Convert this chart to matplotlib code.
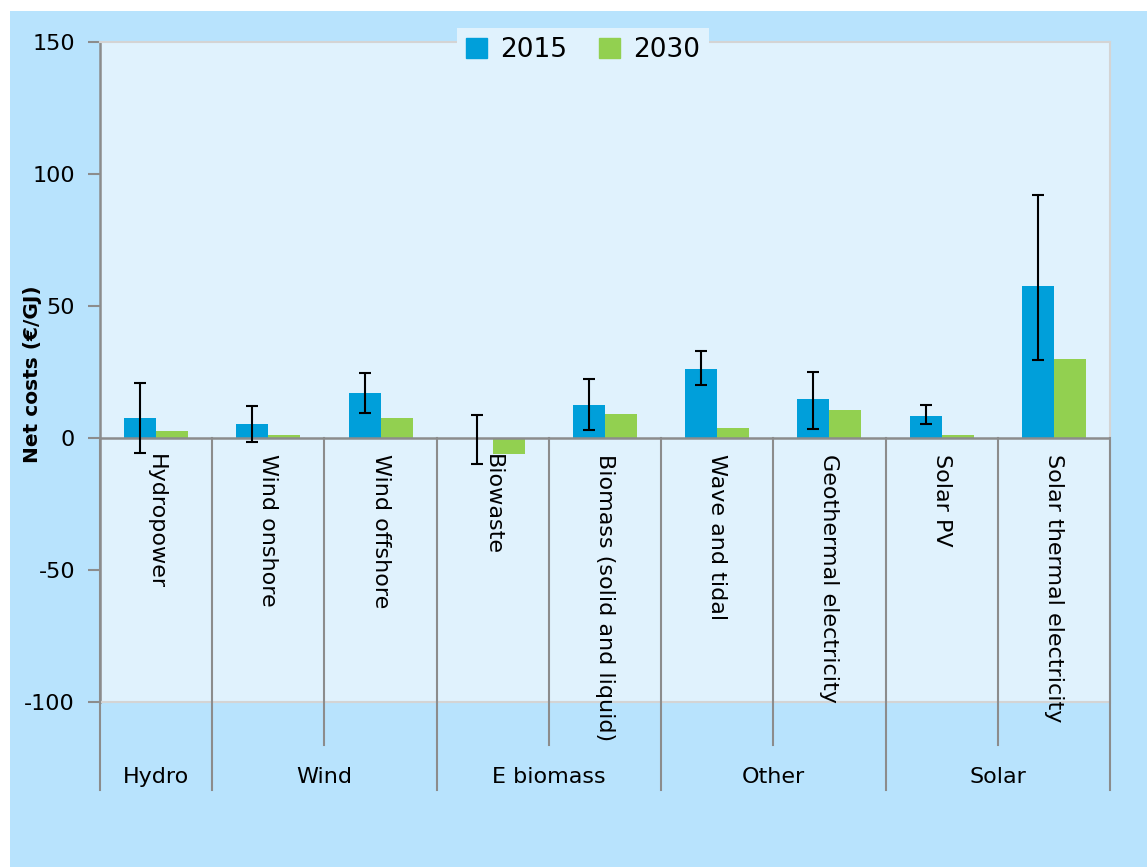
import numpy as np
import matplotlib.pyplot as plt
from matplotlib.patches import Rectangle, Patch

# data
techs = ["Hydropower", "Wind onshore", "Wind offshore", "Biowaste",
         "Biomass (solid and liquid)", "Wave and tidal", "Geothermal electricity",
         "Solar PV", "Solar thermal electricity"]
groups = ["Hydro", "Wind", "E biomass", "Other", "Solar"]
group_sizes = [1, 2, 2, 2, 2]
cost_2015 = [7.5, 5.3, 16.9, 0.0, 12.5, 26.1, 14.6, 8.3, 57.7]
cost_2030 = [2.7, 1.0, 7.5, -6.1, 9.0, 3.9, 10.5, 1.0, 29.8]
err_low = [-5.8, -1.4, 9.3, -10.0, 2.9, 20.1, 3.5, 5.3, 29.4]
err_high = [20.9, 12.2, 24.5, 8.7, 22.3, 33.1, 25.1, 12.5, 91.9]

c15 = "#009fda"
c30 = "#92d050"
plot_bg = "#e0f2fd"
outer_bg = "#b8e3fd"
grey = "#8c8c8c"

W, H = 1147, 867
fig = plt.figure(figsize=(W / 100, H / 100), dpi=100)
fig.patch.set_facecolor("white")
fig.patches.append(Rectangle((10 / W, 0), 1, 1 - 11 / H, transform=fig.transFigure,
                             facecolor=outer_bg, edgecolor="none", zorder=-10))

ax = fig.add_axes([100 / W, 1 - 702 / H, 1010 / W, 660 / H])
ax.set_facecolor(plot_bg)

x = np.arange(len(techs))
bw = 0.285
e_lo = np.array(cost_2015) - np.array(err_low)
e_hi = np.array(err_high) - np.array(cost_2015)
ax.bar(x - bw / 2, cost_2015, bw, color=c15, zorder=2)
ax.bar(x + bw / 2, cost_2030, bw, color=c30, zorder=2)
ax.errorbar(x - bw / 2, cost_2015, yerr=[e_lo, e_hi], fmt="none", ecolor="black",
            elinewidth=1.5, capsize=4.5, capthick=1.5, zorder=4)

ax.set_xlim(-0.5, len(techs) - 0.5)
ax.set_ylim(-100, 150)
ax.set_yticks([-100, -50, 0, 50, 100, 150])
ax.set_yticklabels(["-100", "-50", "0", "50", "100", "150"])
ax.tick_params(axis="y", length=9, width=1.5, color=grey, labelsize=16, pad=9)
ax.set_xticks([])
ax.axhline(0, color=grey, lw=1.8, zorder=3)

for s in ["top", "right", "bottom"]:
    ax.spines[s].set_color("#d4d4d4")
    ax.spines[s].set_linewidth(1.5)
ax.spines["left"].set_color(grey)
ax.spines["left"].set_linewidth(1.8)

fig.text(33 / W, 1 - 374 / H, "Net costs (€/GJ)", rotation=90, ha="center", va="center",
         fontsize=14.5, fontweight="bold")

# category labels
for i, t in enumerate(techs):
    ax.text(i, -6, t, rotation=-90, ha="center", va="top", fontsize=16, zorder=5)

# separators below the axis
bounds = np.concatenate([[0], np.cumsum(group_sizes)]) - 0.5
for b in np.arange(-0.5, len(techs)):
    y_end = -133.3 if b in bounds else -116.3
    ax.plot([b, b], [0, y_end], color=grey, lw=1.5, clip_on=False, zorder=3)

start = 0
for g, n in zip(groups, group_sizes):
    ax.text(start + n / 2 - 0.5, -128.4, g, ha="center", va="center", fontsize=16)
    start += n

leg = fig.legend(handles=[Patch(color=c15, label="2015"), Patch(color=c30, label="2030")],
                 loc="center", bbox_to_anchor=(583 / W, 1 - 50 / H), ncol=2, frameon=True,
                 fontsize=19, handlelength=0.8, handleheight=0.8, columnspacing=1.2,
                 handletextpad=0.5, borderpad=0.35, fancybox=False)
leg.get_frame().set_facecolor(plot_bg)
leg.get_frame().set_edgecolor("none")
leg.get_frame().set_alpha(1)

fig.savefig("out.png", dpi=100, facecolor=fig.get_facecolor())
